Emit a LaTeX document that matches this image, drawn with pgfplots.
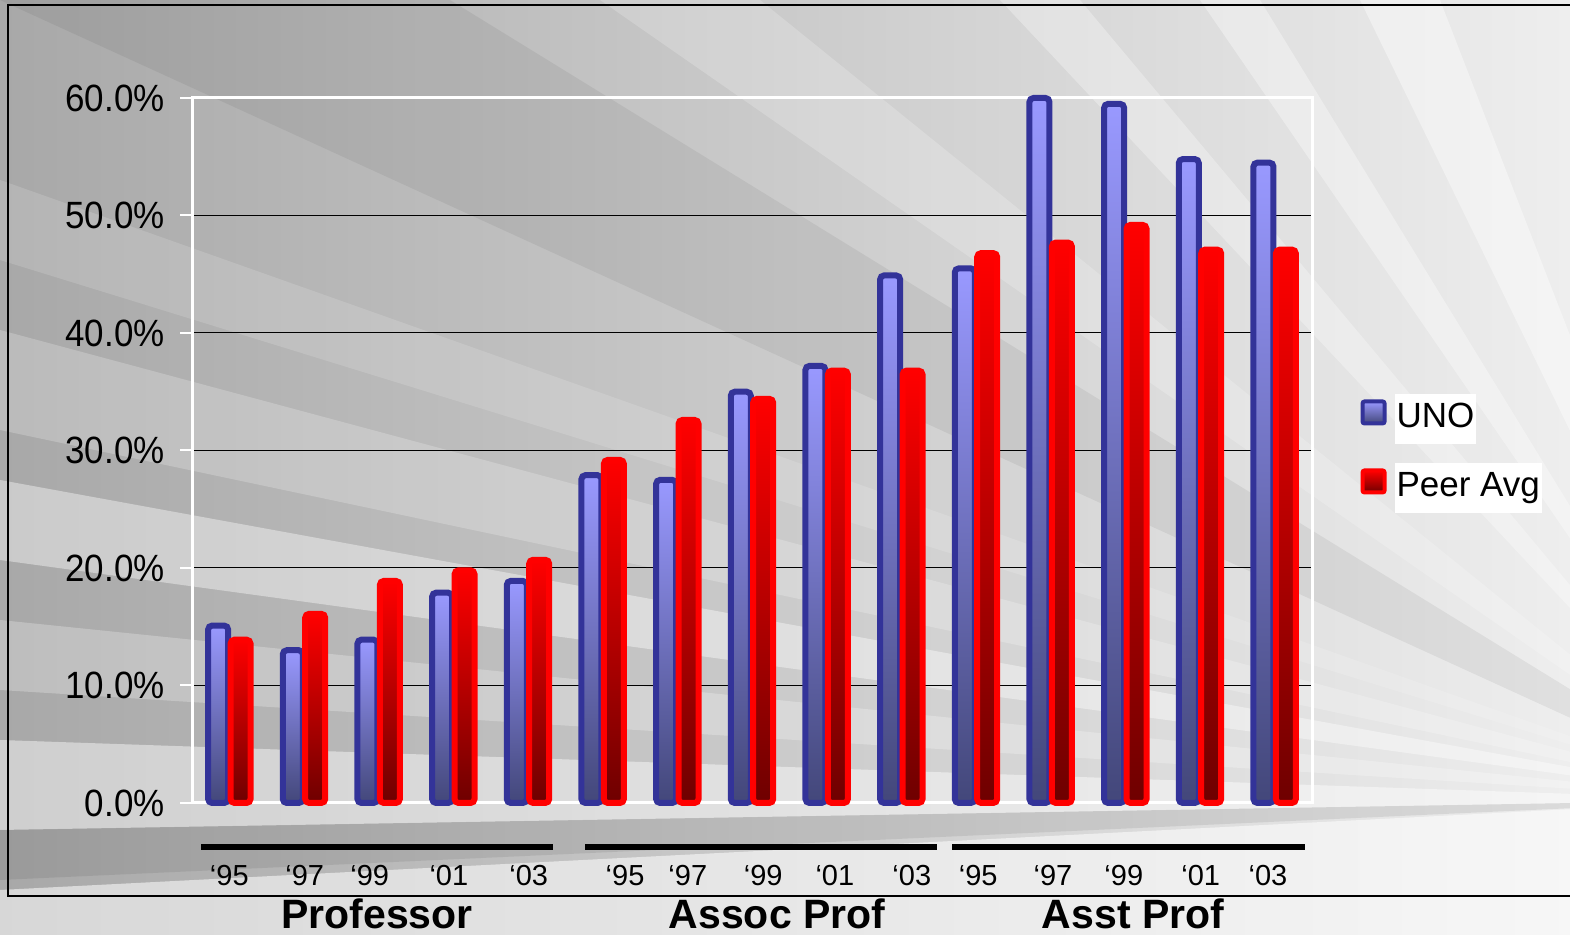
\documentclass[border=0pt]{standalone}
\usepackage{fontspec}
\setmainfont{Liberation Sans}
\newfontfamily\condfont[FakeStretch=0.92]{Liberation Sans}
\usepackage{pgfplots}
\usepackage{pgfplotstable}
\pgfplotsset{compat=1.18}
\definecolor{unoedge}{HTML}{333399}
\definecolor{unotop}{HTML}{9999FF}
\definecolor{unobot}{HTML}{43477A}
\definecolor{peertop}{HTML}{FF0000}
\definecolor{peerbot}{HTML}{6E0000}
\definecolor{bgdark}{HTML}{A8A8A8}
\definecolor{bglight}{HTML}{EEEEEE}

\pgfplotstableread{
x  uno  peer
0  15.1 13.9
1  13.0 16.1
2  13.9 18.9
3  17.9 19.8
4  18.9 20.7
5  27.9 29.2
6  27.5 32.6
7  35.0 34.4
8  37.2 36.8
9  44.9 36.8
10 45.5 46.8
11 60.0 47.7
12 59.5 49.2
13 54.8 47.1
14 54.5 47.1
}\datatable

\pgfplotsset{
  unobar/.style={ybar, bar shift=-5.6pt, draw=unoedge, line width=3pt, rounded corners=2pt, top color=unotop, bottom color=unobot},
  peerbar/.style={ybar, bar shift=5.6pt, draw=peertop, line width=3pt, rounded corners=2pt, top color=peertop, bottom color=peerbot},
}
\newcommand{\legtext}[1]{\hspace{4pt}\setlength{\fboxsep}{1pt}\colorbox{white}{\rule[-7pt]{0pt}{23pt}#1}}

\begin{document}
\begin{tikzpicture}
\path[use as bounding box] (0,0) rectangle (785pt,467.5pt);
\shade[left color=bgdark, right color=bglight] (0,0) rectangle (785pt,467.5pt);
\begin{scope}[x=0.5pt,y=-0.5pt,yshift=467.5pt]
  \clip (0,0) rectangle (1570,935);
  \fill[black,opacity=0.06] (1750,800) -- (0,0) -- (450,0) -- cycle;
  \fill[white,opacity=0.2] (1750,800) -- (600,0) -- (760,0) -- cycle;
  \fill[white,opacity=0.3] (1750,800) -- (1000,0) -- (1080,0) -- cycle;
  \fill[white,opacity=0.35] (1750,800) -- (1200,0) -- (1260,0) -- cycle;
  \fill[white,opacity=0.4] (1750,800) -- (1360,0) -- (1440,0) -- cycle;
  \fill[white,opacity=0.15] (1750,800) -- (0,180) -- (0,260) -- cycle;
  \fill[white,opacity=0.22] (1750,800) -- (0,330) -- (0,430) -- cycle;
  \fill[white,opacity=0.4] (1750,800) -- (0,480) -- (0,560) -- cycle;
  \fill[white,opacity=0.25] (1750,800) -- (0,620) -- (0,690) -- cycle;
  \fill[white,opacity=0.45] (1750,800) -- (0,740) -- (0,830) -- cycle;
  \fill[black,opacity=0.08] (1750,800) -- (0,830) -- (0,880) -- cycle;
  \fill[white,opacity=0.55] (1750,800) -- (0,890) -- (0,935) -- (1570,935) -- cycle;
\end{scope}

\begin{axis}[
  at={(96pt,66pt)}, anchor=south west,
  scale only axis, width=560pt, height=352.5pt,
  xmin=-0.5, xmax=14.5, ymin=0, ymax=60,
  bar width=10pt,
  axis line style={white, line width=1.5pt},
  ymajorgrids, grid style={black, line width=0.5pt},
  ytick={0,10,20,30,40,50,60},
  yticklabels={0.0\%,10.0\%,20.0\%,30.0\%,40.0\%,50.0\%,60.0\%},
  ytick pos=left,
  ytick style={white, line width=1pt},
  tick align=outside, major tick length=6pt,
  yticklabel style={font=\condfont\fontsize{19}{19}\selectfont, anchor=east, inner sep=0pt, xshift=-7.5pt},
  xtick={0,1.01,1.88,2.94,4.01,5.30,6.14,7.15,8.11,9.14,10.03,11.03,11.98,13.01,13.91},
  xticklabels={‘95,‘97,‘99,‘01,‘03,‘95,‘97,‘99,‘01,‘03,‘95,‘97,‘99,‘01,‘03},
  xtick style={draw=none},
  xticklabel style={font=\fontsize{14.5}{14.5}\selectfont, anchor=base, inner sep=0pt, yshift=-35.5pt},
  legend style={at={(1.043,0.505)}, anchor=west, draw=none, fill=none,
    font=\fontsize{17.5}{17.5}\selectfont, row sep=16pt, inner sep=0pt,
    nodes={inner sep=0pt}},
  legend image code/.code={\draw[#1, line width=2pt, rounded corners=1pt] (1pt,-5.5pt) rectangle (12pt,5.5pt);},
  legend cell align=left,
  clip=false,
]
\addlegendimage{unobar}
\addlegendentry{\legtext{UNO}}
\addlegendimage{peerbar}
\addlegendentry{\legtext{Peer Avg}}
\pgfplotsinvokeforeach{0,...,14}{
  \addplot[unobar, forget plot] table[x=x, y=uno, restrict x to domain=#1:#1] {\datatable};
  \addplot[peerbar, forget plot] table[x=x, y=peer, restrict x to domain=#1:#1] {\datatable};
}
\end{axis}

\begin{scope}[x=0.5pt,y=-0.5pt,yshift=467.5pt]
  \draw[black, line width=3pt] (201,847) -- (553,847);
  \draw[black, line width=3pt] (585,847) -- (937,847);
  \draw[black, line width=3pt] (952,847) -- (1305,847);
  \node[anchor=base, inner sep=0pt, font=\fontsize{20.5}{20.5}\selectfont\bfseries] at (377,929) {Professor};
  \node[anchor=base, inner sep=0pt, font=\fontsize{20.5}{20.5}\selectfont\bfseries] at (777,929) {Assoc Prof};
  \node[anchor=base, inner sep=0pt, font=\fontsize{20.5}{20.5}\selectfont\bfseries] at (1133,929) {Asst Prof};
  \draw[black, line width=1pt] (8,5) rectangle (1600,896);
\end{scope}
\end{tikzpicture}
\end{document}
